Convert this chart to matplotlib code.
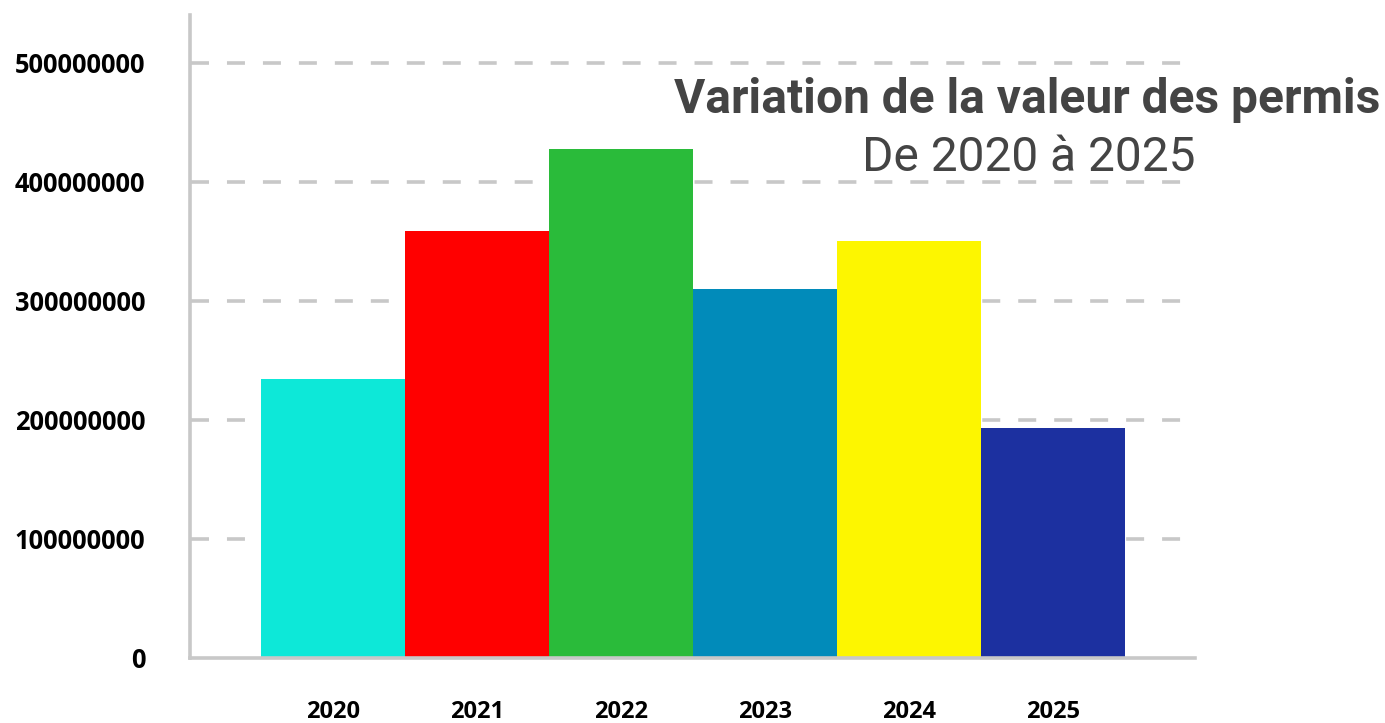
import matplotlib
matplotlib.use("Agg")
import matplotlib.pyplot as plt

years = ["2020", "2021", "2022", "2023", "2024", "2025"]
values = [234e6, 358.5e6, 427.5e6, 309.5e6, 350.5e6, 193.5e6]
colors = ["#0de8d8", "#ff0000", "#2abb3a", "#018bba", "#fdf600", "#1c30a0"]
yticks = [0, 100000000, 200000000, 300000000, 400000000, 500000000]
ytick_labels = [str(v) for v in yticks]

W, H = 1385, 723
fig = plt.figure(figsize=(W / 100, H / 100), dpi=100)
ax = fig.add_axes([190 / W, (H - 658) / H, (1195 - 190) / W, (658 - 15) / H])

x = list(range(len(years)))
ax.bar(x, values, width=1.0, color=colors, edgecolor="none", zorder=3)

ax.set_xlim(-0.993, 5.986)
ax.set_ylim(0, 540e6)

grid_c = "#c8c8c8"
for v in yticks[1:]:
    ax.axhline(v, xmin=0.001, xmax=0.987, color=grid_c, lw=2.6,
               dashes=(4.98, 4.98), zorder=1)

for s in ["top", "right"]:
    ax.spines[s].set_visible(False)
for s in ["left", "bottom"]:
    ax.spines[s].set_color(grid_c)
    ax.spines[s].set_linewidth(2.6)
    ax.spines[s].set_zorder(4)

ax.set_yticks(yticks)
ax.set_yticklabels(ytick_labels, fontsize=18.4, fontweight="bold",
                   family="Open Sans")
ax.set_xticks(x)
ax.set_xticklabels(years, fontsize=17, fontweight="bold",
                   family="Open Sans")
ax.tick_params(axis="y", length=0, pad=32)
ax.tick_params(axis="x", length=0, pad=30)

fig.text(1380 / W, (H - 113) / H, "Variation de la valeur des permis",
         ha="right", va="baseline", fontsize=34.5, fontweight="bold",
         family="Roboto", color="#444444")
fig.text(1195 / W, (H - 171) / H, "De 2020 à 2025",
         ha="right", va="baseline", fontsize=34.5, fontweight="normal",
         family="Roboto", color="#444444")

fig.savefig("out.png", dpi=100)
